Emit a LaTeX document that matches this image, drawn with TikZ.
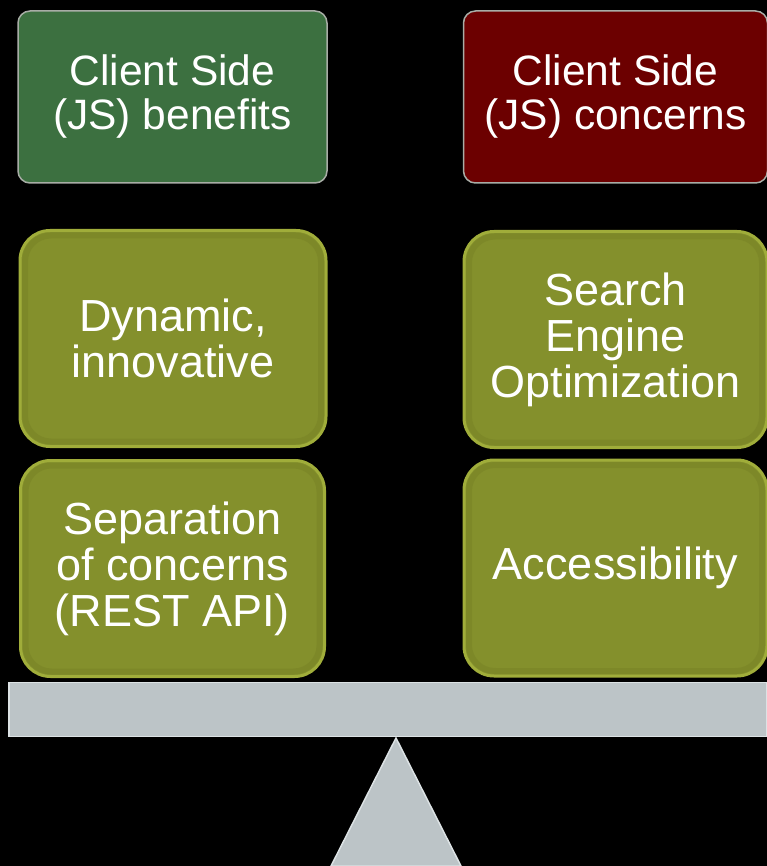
\documentclass[tikz,border=0pt]{standalone}
\usepackage{fontspec}
\setmainfont{Liberation Sans}
\definecolor{hdgreen}{HTML}{3C7040}
\definecolor{hdred}{HTML}{6C0000}
\definecolor{headedge}{HTML}{A8ADA6}
\definecolor{boxolive}{HTML}{84902C}
\definecolor{olivelight}{HTML}{A0AD3A}
\definecolor{oliveshade}{HTML}{6E7822}
\definecolor{steel}{HTML}{BCC4C7}
\definecolor{steellight}{HTML}{DCE2E4}
\definecolor{steeldark}{HTML}{98A0A3}
\begin{document}
\begin{tikzpicture}[x=1pt,y=-1pt,
  head/.style={rounded corners=12pt, draw=headedge, line width=1.5pt,
    text=white, align=center, inner sep=0pt,
    font=\fontsize{42.5}{44}\selectfont},
  item/.style={rounded corners=30pt, fill=boxolive, draw=olivelight, line width=3pt,
    text=white, align=center, inner sep=0pt,
    minimum height=216pt,
    font=\fontsize{45}{46}\selectfont,
    path picture={\draw[oliveshade, line width=6pt, opacity=0.3, rounded corners=26pt]
      ([shift={(5pt,5pt)}]path picture bounding box.south west) rectangle
      ([shift={(-5pt,-5pt)}]path picture bounding box.north east);}},
  metal/.style={fill=steel, draw=steellight, line width=1.5pt}
]
\fill[black] (0,0) rectangle (767,866);
\useasboundingbox (0,0) rectangle (767,866);

\node[head, fill=hdgreen, minimum width=309pt, minimum height=172pt] (benefits) at (172.5,97) {Client Side\\(JS) benefits};
\node[head, fill=hdred, minimum width=304pt, minimum height=172pt] (concerns) at (615.5,97) {Client Side\\(JS) concerns};

\node[item, minimum width=306pt] (dynamic) at (173,338.5) {Dynamic,\\innovative};
\node[item, minimum width=304pt] (separation) at (172.5,568.5) {Separation\\of concerns\\(REST API)};
\node[item, minimum width=303pt] (seo) at (615.5,339.5) {Search\\Engine\\Optimization};
\node[item, minimum width=303pt] (access) at (615.5,568) {Accessibility};

\node[metal, minimum width=758pt, minimum height=54pt, inner sep=0pt] (beam) at (388,709.5) {};
\path[metal] (396,738) coordinate (apex) -- (461,866) coordinate (baseR) -- (331,866) coordinate (baseL) -- cycle;
\end{tikzpicture}
\end{document}
